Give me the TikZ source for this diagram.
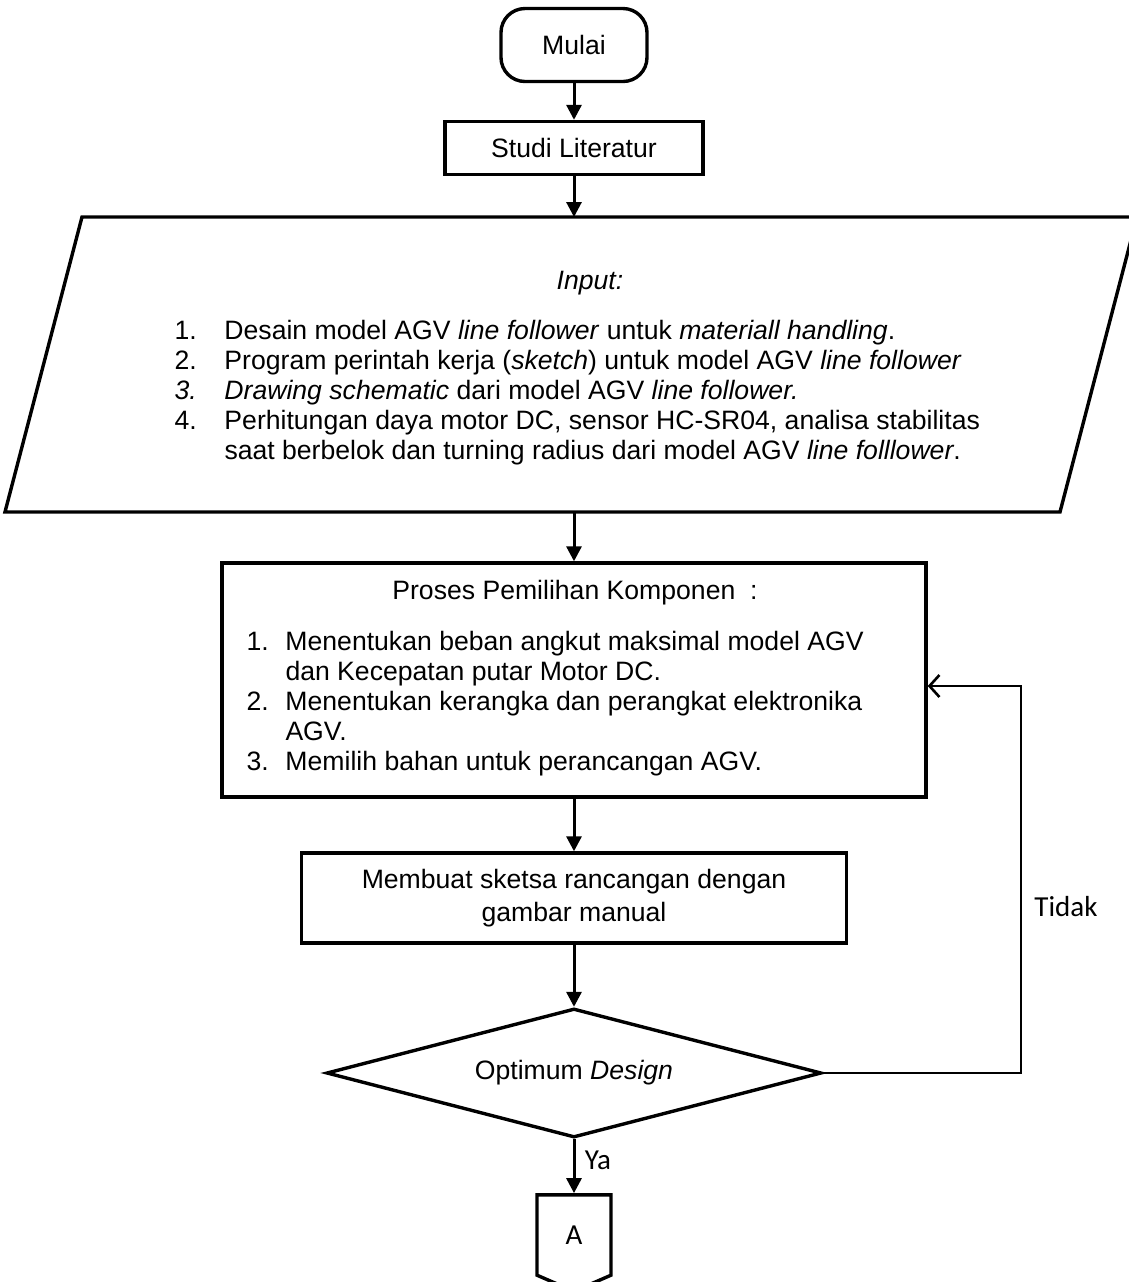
\documentclass[tikz,border=0pt]{standalone}
\usepackage{fontspec}
\setmainfont{Liberation Sans}
\newfontfamily\calib{Carlito}
\usepackage{tikz}
\usetikzlibrary{shapes,arrows.meta}
\tikzset{term/.style={draw,rounded corners=12pt,line width=1.7pt,minimum width=73pt,minimum height=36.5pt,inner sep=0pt},
box/.style={draw,rectangle,line width=1.7pt,inner sep=0pt},
txt/.style={inner sep=0pt},
dec/.style={draw,diamond,aspect=3.8,line width=1.7pt,inner sep=0pt,minimum width=247.5pt,minimum height=64.5pt},
conn/.style={draw,signal,signal to=south,signal pointer angle=133,line width=1.7pt,inner sep=0pt,minimum width=37pt,minimum height=42pt},
lbl/.style={inner sep=0pt,font=\calib\fontsize{14.5}{16}\selectfont}}

\begin{document}
\begin{tikzpicture}[x=0.5pt,y=-0.5pt,>={Triangle[width=7.5pt,length=7.5pt]},line width=1.5pt,font=\fontsize{13.3}{15}\selectfont]
        \useasboundingbox (0,0) rectangle (1129,1282);

        \node[term] (mulai)at (574,45) {Mulai};
        \node[box,minimum width=129pt,minimum height=26.5pt] (studi)at (574,148) {Studi Literatur};

        % data masukan
        \draw[line width=1.7pt] (82,217) -- (1137,217) -- (1060,512) -- (5,512) -- cycle;
        \coordinate (intop) at (574,217);
        \coordinate (inbot) at (574,512);
        \node[txt] (input)at (590,283) {\textit{Input:}};
        \node[txt,anchor=west] (inlist)at (173,393) {\begin{tabular}{@{}p{25pt}@{}l@{}}
        1.&Desain model AGV \textit{line follower} untuk \textit{materiall handling}.\\
        2.&Program perintah kerja (\textit{sketch}) untuk model AGV \textit{line follower}\\
        \textit{3.}&\textit{Drawing schematic} dari model AGV \textit{line follower.}\\
        4.&Perhitungan daya motor DC, sensor HC-SR04, analisa stabilitas\\
        &saat berbelok dan turning radius dari model AGV \textit{line folllower}.
        \end{tabular}};

        \node[box,minimum width=352pt,minimum height=117pt] (proses)at (574,680) {};
        \node[txt] (prjudul)at (575,593) {Proses Pemilihan Komponen\ \ :};
        \node[txt,anchor=west] (prlist)at (245,704) {\begin{tabular}{@{}p{19.5pt}@{}l@{}}
        1.&Menentukan beban angkut maksimal model AGV\\
        &dan Kecepatan putar Motor DC.\\
        2.&Menentukan kerangka dan perangkat elektronika\\
        &AGV.\\
        3.&Memilih bahan untuk perancangan AGV.
        \end{tabular}};

        \node[box,minimum width=272.5pt,minimum height=45pt,align=center,font=\fontsize{13.3}{16.5}\selectfont] (sketsa)at (574,898) {Membuat sketsa rancangan dengan\\gambar manual};
        \node[dec] (optimum)at (574,1073) {Optimum \textit{Design}};
        \node[conn,font=\calib\fontsize{14.5}{16}\selectfont] (offA)at (574,1235) {A};

        \coordinate (back) at (1021,1073);
        \coordinate (backtop) at (1021,686);
        \node[lbl] (tidak)at (1066,907) {Tidak};
        \node[lbl] (ya)at (598,1160) {Ya};

        \draw [->] (mulai) to []node[]{} (studi);
        \draw [->] (studi) to []node[]{} (intop);
        \draw [->] (inbot) to []node[]{} (proses);
        \draw [->] (proses) to []node[]{} (sketsa);
        \draw [->] (sketsa) to []node[]{} (optimum);
        \draw [->] (optimum) to []node[]{} (offA);
        \draw [line width=1.3pt,-{Straight Barb[length=5pt,width=11pt]}] (optimum.east) -- (back) -- (backtop) -- (proses.east |- backtop);
    \end{tikzpicture}
\end{document}
